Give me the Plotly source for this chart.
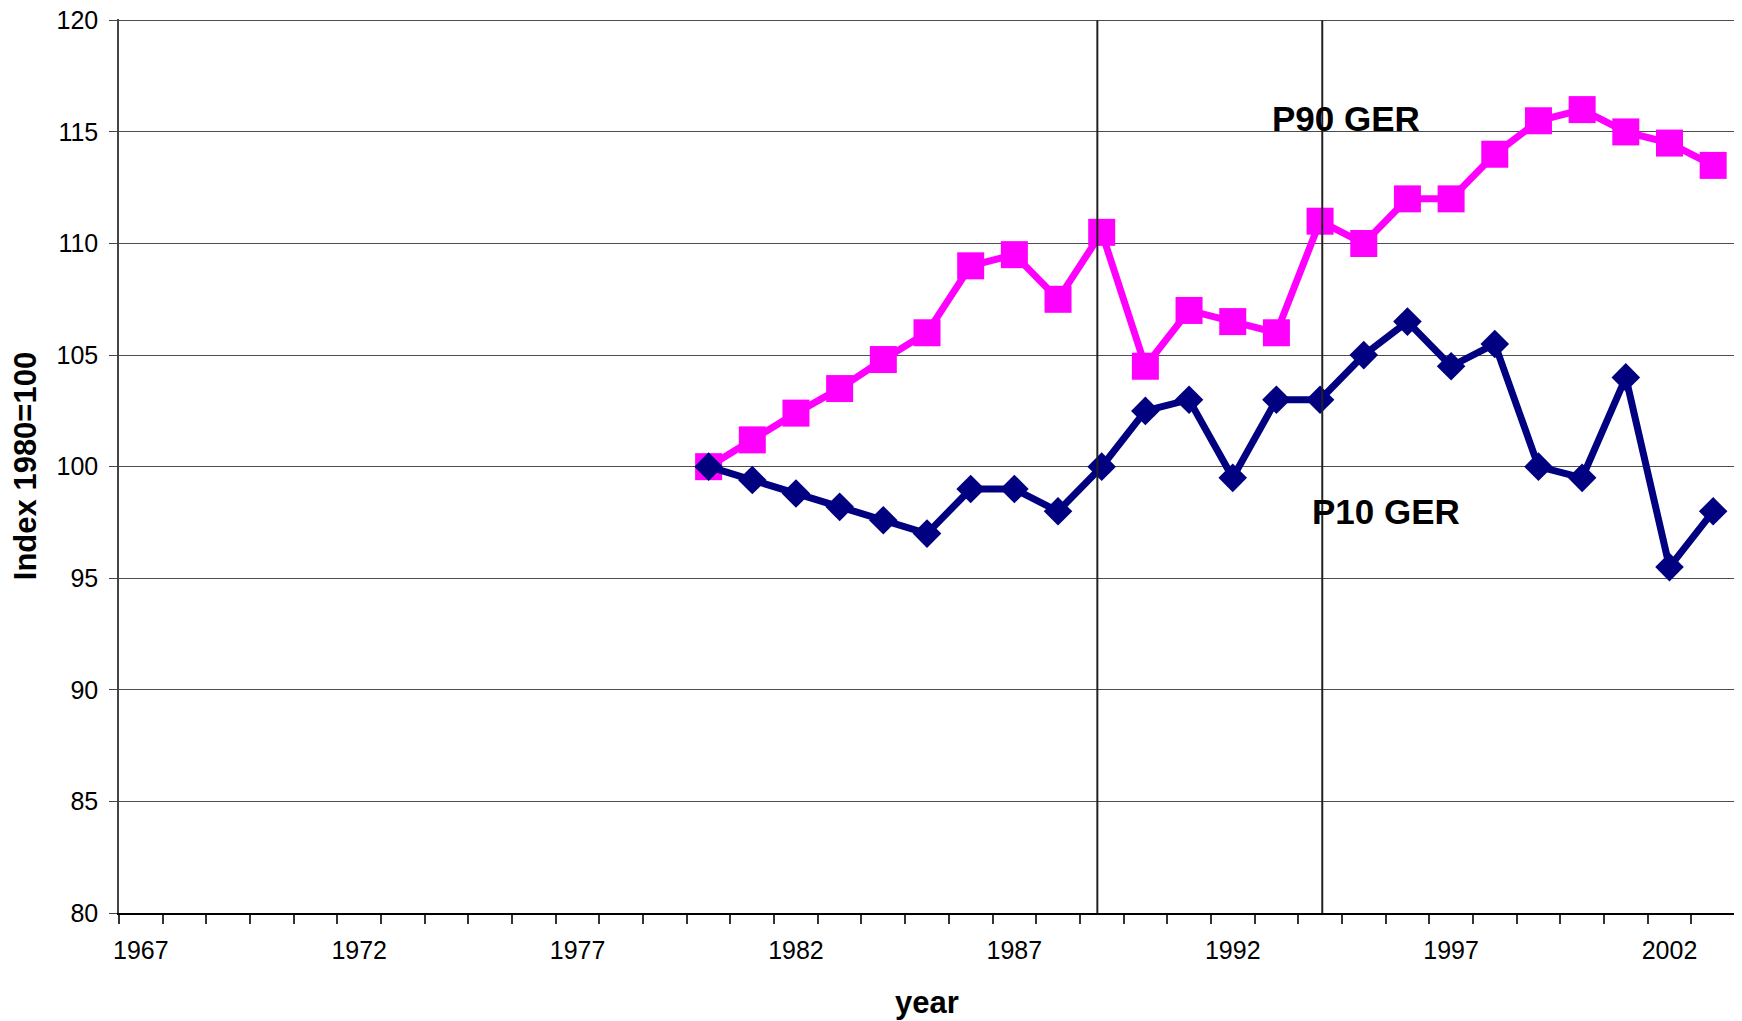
import plotly.graph_objects as go

years = list(range(1967, 2004))
data_years = list(range(1980, 2004))

p90_ger = [100.0, 101.2, 102.4, 103.5, 104.8, 106.0, 109.0, 109.5, 107.5, 110.5,
           104.5, 107.0, 106.5, 106.0, 111.0, 110.0, 112.0, 112.0, 114.0, 115.5,
           116.0, 115.0, 114.5, 113.5]
p10_ger = [100.0, 99.4, 98.8, 98.2, 97.6, 97.0, 99.0, 99.0, 98.0, 100.0,
           102.5, 103.0, 99.5, 103.0, 103.0, 105.0, 106.5, 104.5, 105.5, 100.0,
           99.5, 104.0, 95.5, 98.0]

tick_years = [1967, 1972, 1977, 1982, 1987, 1992, 1997, 2002]
y_ticks = [80, 85, 90, 95, 100, 105, 110, 115, 120]
divider_years = [1988.9, 1994.05]

# category boundaries (Excel style: ticks between categories)
boundaries = [y - 0.5 for y in years] + [years[-1] + 0.5]

fig = go.Figure()

fig.add_trace(go.Scatter(
    x=data_years, y=p90_ger, mode="lines+markers", name="P90 GER",
    line=dict(color="#FF00FF", width=7),
    marker=dict(symbol="square", size=27, color="#FF00FF"),
))
fig.add_trace(go.Scatter(
    x=data_years, y=p10_ger, mode="lines+markers", name="P10 GER",
    line=dict(color="#000080", width=7),
    marker=dict(symbol="diamond", size=22, color="#000080"),
))

for xv in divider_years:
    fig.add_shape(type="line", x0=xv, x1=xv, y0=80, y1=120,
                  line=dict(color="#222222", width=2))

fig.add_annotation(x=1994.6, y=115.6, text="<b>P90 GER</b>", showarrow=False,
                   font=dict(size=35, color="black", family="Liberation Sans, Arial"))
fig.add_annotation(x=1995.5, y=98.0, text="<b>P10 GER</b>", showarrow=False,
                   font=dict(size=35, color="black", family="Liberation Sans, Arial"))

fig.update_layout(
    width=1742, height=1021,
    margin=dict(l=111, r=15, t=11, b=116),
    plot_bgcolor="white", paper_bgcolor="white",
    showlegend=False,
    font=dict(family="Liberation Sans, Arial", size=25, color="black"),
    xaxis=dict(
        range=[boundaries[0], boundaries[-1]],
        tickmode="array", tickvals=tick_years, ticks="",
        ticklabelstandoff=14, ticklabeloverflow="allow", automargin=False,
        showgrid=False, zeroline=False,
        showline=True, linecolor="black", linewidth=2,
        minor=dict(tickmode="array", tickvals=boundaries, ticks="outside",
                   ticklen=9, tickcolor="#333333", tickwidth=1.5, showgrid=False),
        title=dict(text="<b>year</b>", font=dict(size=31), standoff=28),
    ),
    yaxis=dict(
        range=[80, 120.06],
        tickmode="array", tickvals=y_ticks,
        ticks="outside", ticklen=8, tickcolor="#444444",
        ticklabelstandoff=6, ticklabeloverflow="allow", automargin=False,
        showgrid=True, gridcolor="#4d4d4d", gridwidth=1,
        zeroline=False,
        showline=True, linecolor="#444444", linewidth=1.5,
        title=dict(text="<b>Index 1980=100</b>", font=dict(size=31), standoff=14),
    ),
)

fig.write_html("out.html")
